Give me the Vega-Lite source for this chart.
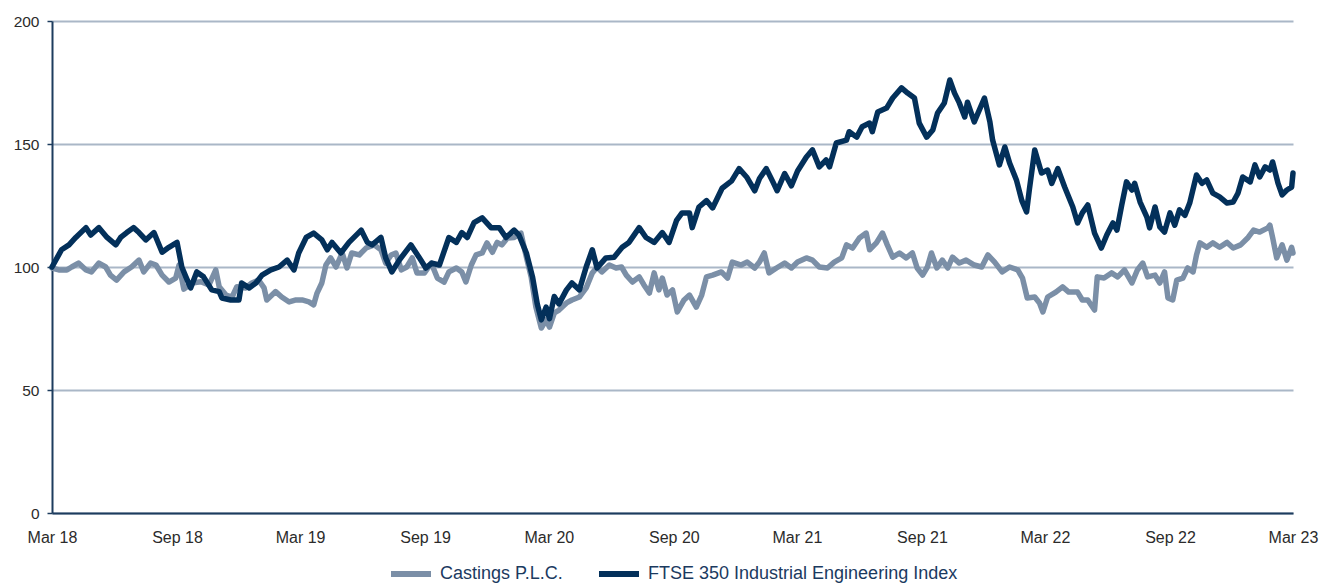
{
  "$schema": "https://vega.github.io/schema/vega-lite/v6.json",
  "width": 1241,
  "height": 492,
  "autosize": "none",
  "padding": {"left": 52, "top": 21, "right": 29, "bottom": 72},
  "background": "white",
  "config": {
    "view": {"stroke": null},
    "font": "Liberation Sans"
  },
  "data": {
    "values": [
      {"date": "2018-03-01", "series": "Castings P.L.C.", "value": 99.6},
      {"date": "2018-03-11", "series": "Castings P.L.C.", "value": 98.8},
      {"date": "2018-03-23", "series": "Castings P.L.C.", "value": 98.8},
      {"date": "2018-03-30", "series": "Castings P.L.C.", "value": 100},
      {"date": "2018-04-09", "series": "Castings P.L.C.", "value": 101.6},
      {"date": "2018-04-20", "series": "Castings P.L.C.", "value": 98.8},
      {"date": "2018-04-28", "series": "Castings P.L.C.", "value": 98},
      {"date": "2018-05-09", "series": "Castings P.L.C.", "value": 101.6},
      {"date": "2018-05-19", "series": "Castings P.L.C.", "value": 100},
      {"date": "2018-05-26", "series": "Castings P.L.C.", "value": 96.7},
      {"date": "2018-06-04", "series": "Castings P.L.C.", "value": 94.7},
      {"date": "2018-06-15", "series": "Castings P.L.C.", "value": 98},
      {"date": "2018-06-26", "series": "Castings P.L.C.", "value": 100},
      {"date": "2018-07-07", "series": "Castings P.L.C.", "value": 102.8},
      {"date": "2018-07-14", "series": "Castings P.L.C.", "value": 98},
      {"date": "2018-07-24", "series": "Castings P.L.C.", "value": 101.6},
      {"date": "2018-08-01", "series": "Castings P.L.C.", "value": 100.8},
      {"date": "2018-08-10", "series": "Castings P.L.C.", "value": 96.7},
      {"date": "2018-08-20", "series": "Castings P.L.C.", "value": 93.9},
      {"date": "2018-08-30", "series": "Castings P.L.C.", "value": 95.5},
      {"date": "2018-09-04", "series": "Castings P.L.C.", "value": 100.8},
      {"date": "2018-09-11", "series": "Castings P.L.C.", "value": 91},
      {"date": "2018-09-23", "series": "Castings P.L.C.", "value": 93.5},
      {"date": "2018-10-06", "series": "Castings P.L.C.", "value": 94},
      {"date": "2018-10-18", "series": "Castings P.L.C.", "value": 92.7},
      {"date": "2018-10-28", "series": "Castings P.L.C.", "value": 98.8},
      {"date": "2018-11-02", "series": "Castings P.L.C.", "value": 92},
      {"date": "2018-11-12", "series": "Castings P.L.C.", "value": 88.6},
      {"date": "2018-11-21", "series": "Castings P.L.C.", "value": 87.8},
      {"date": "2018-11-28", "series": "Castings P.L.C.", "value": 92},
      {"date": "2018-12-11", "series": "Castings P.L.C.", "value": 91.5},
      {"date": "2018-12-20", "series": "Castings P.L.C.", "value": 93.5},
      {"date": "2018-12-30", "series": "Castings P.L.C.", "value": 94.7},
      {"date": "2019-01-07", "series": "Castings P.L.C.", "value": 91.5},
      {"date": "2019-01-11", "series": "Castings P.L.C.", "value": 86.6},
      {"date": "2019-01-24", "series": "Castings P.L.C.", "value": 90},
      {"date": "2019-02-02", "series": "Castings P.L.C.", "value": 87.8},
      {"date": "2019-02-13", "series": "Castings P.L.C.", "value": 85.8},
      {"date": "2019-02-23", "series": "Castings P.L.C.", "value": 86.6},
      {"date": "2019-03-04", "series": "Castings P.L.C.", "value": 86.6},
      {"date": "2019-03-14", "series": "Castings P.L.C.", "value": 85.8},
      {"date": "2019-03-21", "series": "Castings P.L.C.", "value": 84.6},
      {"date": "2019-03-26", "series": "Castings P.L.C.", "value": 89.4},
      {"date": "2019-04-02", "series": "Castings P.L.C.", "value": 93.5},
      {"date": "2019-04-08", "series": "Castings P.L.C.", "value": 100.8},
      {"date": "2019-04-15", "series": "Castings P.L.C.", "value": 103.7},
      {"date": "2019-04-23", "series": "Castings P.L.C.", "value": 100},
      {"date": "2019-05-02", "series": "Castings P.L.C.", "value": 105.7},
      {"date": "2019-05-09", "series": "Castings P.L.C.", "value": 99.6},
      {"date": "2019-05-16", "series": "Castings P.L.C.", "value": 105.7},
      {"date": "2019-05-27", "series": "Castings P.L.C.", "value": 104.9},
      {"date": "2019-06-06", "series": "Castings P.L.C.", "value": 107.7},
      {"date": "2019-06-18", "series": "Castings P.L.C.", "value": 109},
      {"date": "2019-06-28", "series": "Castings P.L.C.", "value": 107},
      {"date": "2019-07-05", "series": "Castings P.L.C.", "value": 101.6},
      {"date": "2019-07-13", "series": "Castings P.L.C.", "value": 104.9},
      {"date": "2019-07-20", "series": "Castings P.L.C.", "value": 105.7},
      {"date": "2019-07-28", "series": "Castings P.L.C.", "value": 98.8},
      {"date": "2019-08-05", "series": "Castings P.L.C.", "value": 100},
      {"date": "2019-08-13", "series": "Castings P.L.C.", "value": 103.7},
      {"date": "2019-08-20", "series": "Castings P.L.C.", "value": 97.6},
      {"date": "2019-08-31", "series": "Castings P.L.C.", "value": 97.6},
      {"date": "2019-09-10", "series": "Castings P.L.C.", "value": 101.6},
      {"date": "2019-09-19", "series": "Castings P.L.C.", "value": 95.5},
      {"date": "2019-09-29", "series": "Castings P.L.C.", "value": 93.9},
      {"date": "2019-10-06", "series": "Castings P.L.C.", "value": 98},
      {"date": "2019-10-17", "series": "Castings P.L.C.", "value": 99.6},
      {"date": "2019-10-25", "series": "Castings P.L.C.", "value": 98},
      {"date": "2019-10-31", "series": "Castings P.L.C.", "value": 93.9},
      {"date": "2019-11-08", "series": "Castings P.L.C.", "value": 100.8},
      {"date": "2019-11-15", "series": "Castings P.L.C.", "value": 104.9},
      {"date": "2019-11-24", "series": "Castings P.L.C.", "value": 105.7},
      {"date": "2019-12-01", "series": "Castings P.L.C.", "value": 109.8},
      {"date": "2019-12-09", "series": "Castings P.L.C.", "value": 106},
      {"date": "2019-12-16", "series": "Castings P.L.C.", "value": 110},
      {"date": "2019-12-23", "series": "Castings P.L.C.", "value": 109},
      {"date": "2019-12-31", "series": "Castings P.L.C.", "value": 111.8},
      {"date": "2020-01-10", "series": "Castings P.L.C.", "value": 112},
      {"date": "2020-01-20", "series": "Castings P.L.C.", "value": 113.8},
      {"date": "2020-01-28", "series": "Castings P.L.C.", "value": 104},
      {"date": "2020-02-04", "series": "Castings P.L.C.", "value": 96},
      {"date": "2020-02-11", "series": "Castings P.L.C.", "value": 83.7},
      {"date": "2020-02-19", "series": "Castings P.L.C.", "value": 75.2},
      {"date": "2020-02-26", "series": "Castings P.L.C.", "value": 78.5},
      {"date": "2020-03-02", "series": "Castings P.L.C.", "value": 75.6},
      {"date": "2020-03-09", "series": "Castings P.L.C.", "value": 81.3},
      {"date": "2020-03-16", "series": "Castings P.L.C.", "value": 82.5},
      {"date": "2020-03-27", "series": "Castings P.L.C.", "value": 85.4},
      {"date": "2020-04-04", "series": "Castings P.L.C.", "value": 86.6},
      {"date": "2020-04-15", "series": "Castings P.L.C.", "value": 87.8},
      {"date": "2020-04-25", "series": "Castings P.L.C.", "value": 91.5},
      {"date": "2020-05-04", "series": "Castings P.L.C.", "value": 97.6},
      {"date": "2020-05-11", "series": "Castings P.L.C.", "value": 100},
      {"date": "2020-05-18", "series": "Castings P.L.C.", "value": 98},
      {"date": "2020-05-29", "series": "Castings P.L.C.", "value": 100.8},
      {"date": "2020-06-08", "series": "Castings P.L.C.", "value": 99.6},
      {"date": "2020-06-16", "series": "Castings P.L.C.", "value": 100},
      {"date": "2020-06-23", "series": "Castings P.L.C.", "value": 96.7},
      {"date": "2020-07-02", "series": "Castings P.L.C.", "value": 93.9},
      {"date": "2020-07-12", "series": "Castings P.L.C.", "value": 96},
      {"date": "2020-07-19", "series": "Castings P.L.C.", "value": 92.7},
      {"date": "2020-07-27", "series": "Castings P.L.C.", "value": 89.4},
      {"date": "2020-08-03", "series": "Castings P.L.C.", "value": 97.6},
      {"date": "2020-08-10", "series": "Castings P.L.C.", "value": 90.7},
      {"date": "2020-08-15", "series": "Castings P.L.C.", "value": 95.5},
      {"date": "2020-08-22", "series": "Castings P.L.C.", "value": 88.6},
      {"date": "2020-08-30", "series": "Castings P.L.C.", "value": 90.7},
      {"date": "2020-09-06", "series": "Castings P.L.C.", "value": 81.7},
      {"date": "2020-09-16", "series": "Castings P.L.C.", "value": 86.6},
      {"date": "2020-09-24", "series": "Castings P.L.C.", "value": 88.6},
      {"date": "2020-10-04", "series": "Castings P.L.C.", "value": 83.7},
      {"date": "2020-10-12", "series": "Castings P.L.C.", "value": 88.6},
      {"date": "2020-10-19", "series": "Castings P.L.C.", "value": 96},
      {"date": "2020-10-28", "series": "Castings P.L.C.", "value": 96.7},
      {"date": "2020-11-10", "series": "Castings P.L.C.", "value": 98},
      {"date": "2020-11-19", "series": "Castings P.L.C.", "value": 95.5},
      {"date": "2020-11-26", "series": "Castings P.L.C.", "value": 102},
      {"date": "2020-12-09", "series": "Castings P.L.C.", "value": 100.8},
      {"date": "2020-12-18", "series": "Castings P.L.C.", "value": 102},
      {"date": "2020-12-29", "series": "Castings P.L.C.", "value": 99.6},
      {"date": "2021-01-05", "series": "Castings P.L.C.", "value": 102},
      {"date": "2021-01-12", "series": "Castings P.L.C.", "value": 105.7},
      {"date": "2021-01-19", "series": "Castings P.L.C.", "value": 97.6},
      {"date": "2021-01-30", "series": "Castings P.L.C.", "value": 99.6},
      {"date": "2021-02-11", "series": "Castings P.L.C.", "value": 101.6},
      {"date": "2021-02-21", "series": "Castings P.L.C.", "value": 99.6},
      {"date": "2021-03-02", "series": "Castings P.L.C.", "value": 102},
      {"date": "2021-03-15", "series": "Castings P.L.C.", "value": 103.7},
      {"date": "2021-03-24", "series": "Castings P.L.C.", "value": 102.8},
      {"date": "2021-04-03", "series": "Castings P.L.C.", "value": 100},
      {"date": "2021-04-15", "series": "Castings P.L.C.", "value": 99.6},
      {"date": "2021-04-25", "series": "Castings P.L.C.", "value": 102},
      {"date": "2021-05-06", "series": "Castings P.L.C.", "value": 103.7},
      {"date": "2021-05-13", "series": "Castings P.L.C.", "value": 109},
      {"date": "2021-05-22", "series": "Castings P.L.C.", "value": 107.7},
      {"date": "2021-06-01", "series": "Castings P.L.C.", "value": 111.8},
      {"date": "2021-06-11", "series": "Castings P.L.C.", "value": 113.8},
      {"date": "2021-06-16", "series": "Castings P.L.C.", "value": 107},
      {"date": "2021-06-26", "series": "Castings P.L.C.", "value": 109.8},
      {"date": "2021-07-05", "series": "Castings P.L.C.", "value": 113.8},
      {"date": "2021-07-12", "series": "Castings P.L.C.", "value": 109},
      {"date": "2021-07-20", "series": "Castings P.L.C.", "value": 104},
      {"date": "2021-07-30", "series": "Castings P.L.C.", "value": 105.7},
      {"date": "2021-08-09", "series": "Castings P.L.C.", "value": 103.7},
      {"date": "2021-08-18", "series": "Castings P.L.C.", "value": 105.7},
      {"date": "2021-08-25", "series": "Castings P.L.C.", "value": 99.6},
      {"date": "2021-09-02", "series": "Castings P.L.C.", "value": 96.7},
      {"date": "2021-09-09", "series": "Castings P.L.C.", "value": 100},
      {"date": "2021-09-15", "series": "Castings P.L.C.", "value": 105.7},
      {"date": "2021-09-23", "series": "Castings P.L.C.", "value": 99.6},
      {"date": "2021-10-01", "series": "Castings P.L.C.", "value": 102.8},
      {"date": "2021-10-09", "series": "Castings P.L.C.", "value": 99.6},
      {"date": "2021-10-16", "series": "Castings P.L.C.", "value": 104},
      {"date": "2021-10-26", "series": "Castings P.L.C.", "value": 101.6},
      {"date": "2021-11-05", "series": "Castings P.L.C.", "value": 102.8},
      {"date": "2021-11-17", "series": "Castings P.L.C.", "value": 100.8},
      {"date": "2021-11-28", "series": "Castings P.L.C.", "value": 100},
      {"date": "2021-12-07", "series": "Castings P.L.C.", "value": 104.9},
      {"date": "2021-12-17", "series": "Castings P.L.C.", "value": 102},
      {"date": "2021-12-28", "series": "Castings P.L.C.", "value": 98},
      {"date": "2022-01-08", "series": "Castings P.L.C.", "value": 100},
      {"date": "2022-01-20", "series": "Castings P.L.C.", "value": 98.8},
      {"date": "2022-01-27", "series": "Castings P.L.C.", "value": 95.5},
      {"date": "2022-02-03", "series": "Castings P.L.C.", "value": 87.4},
      {"date": "2022-02-14", "series": "Castings P.L.C.", "value": 87.8},
      {"date": "2022-02-21", "series": "Castings P.L.C.", "value": 85.4},
      {"date": "2022-02-26", "series": "Castings P.L.C.", "value": 81.7},
      {"date": "2022-03-05", "series": "Castings P.L.C.", "value": 87.8},
      {"date": "2022-03-17", "series": "Castings P.L.C.", "value": 89.8},
      {"date": "2022-03-27", "series": "Castings P.L.C.", "value": 91.9},
      {"date": "2022-04-05", "series": "Castings P.L.C.", "value": 89.8},
      {"date": "2022-04-18", "series": "Castings P.L.C.", "value": 89.8},
      {"date": "2022-04-25", "series": "Castings P.L.C.", "value": 86.6},
      {"date": "2022-05-03", "series": "Castings P.L.C.", "value": 86.6},
      {"date": "2022-05-13", "series": "Castings P.L.C.", "value": 82.5},
      {"date": "2022-05-17", "series": "Castings P.L.C.", "value": 96},
      {"date": "2022-05-27", "series": "Castings P.L.C.", "value": 95.5},
      {"date": "2022-06-07", "series": "Castings P.L.C.", "value": 97.6},
      {"date": "2022-06-16", "series": "Castings P.L.C.", "value": 96},
      {"date": "2022-06-26", "series": "Castings P.L.C.", "value": 98.8},
      {"date": "2022-07-07", "series": "Castings P.L.C.", "value": 93.5},
      {"date": "2022-07-15", "series": "Castings P.L.C.", "value": 98.8},
      {"date": "2022-07-23", "series": "Castings P.L.C.", "value": 101.6},
      {"date": "2022-07-30", "series": "Castings P.L.C.", "value": 96},
      {"date": "2022-08-10", "series": "Castings P.L.C.", "value": 96.7},
      {"date": "2022-08-17", "series": "Castings P.L.C.", "value": 93.5},
      {"date": "2022-08-24", "series": "Castings P.L.C.", "value": 98},
      {"date": "2022-08-29", "series": "Castings P.L.C.", "value": 87.4},
      {"date": "2022-09-05", "series": "Castings P.L.C.", "value": 86.6},
      {"date": "2022-09-11", "series": "Castings P.L.C.", "value": 94.7},
      {"date": "2022-09-20", "series": "Castings P.L.C.", "value": 95.5},
      {"date": "2022-09-27", "series": "Castings P.L.C.", "value": 99.6},
      {"date": "2022-10-05", "series": "Castings P.L.C.", "value": 98},
      {"date": "2022-10-10", "series": "Castings P.L.C.", "value": 104.9},
      {"date": "2022-10-15", "series": "Castings P.L.C.", "value": 109.8},
      {"date": "2022-10-25", "series": "Castings P.L.C.", "value": 108},
      {"date": "2022-11-03", "series": "Castings P.L.C.", "value": 109.8},
      {"date": "2022-11-13", "series": "Castings P.L.C.", "value": 108},
      {"date": "2022-11-24", "series": "Castings P.L.C.", "value": 110},
      {"date": "2022-12-03", "series": "Castings P.L.C.", "value": 107.7},
      {"date": "2022-12-14", "series": "Castings P.L.C.", "value": 109},
      {"date": "2022-12-25", "series": "Castings P.L.C.", "value": 112},
      {"date": "2023-01-02", "series": "Castings P.L.C.", "value": 115},
      {"date": "2023-01-11", "series": "Castings P.L.C.", "value": 114.2},
      {"date": "2023-01-23", "series": "Castings P.L.C.", "value": 115.9},
      {"date": "2023-01-26", "series": "Castings P.L.C.", "value": 117},
      {"date": "2023-01-30", "series": "Castings P.L.C.", "value": 112},
      {"date": "2023-02-05", "series": "Castings P.L.C.", "value": 103.7},
      {"date": "2023-02-13", "series": "Castings P.L.C.", "value": 109},
      {"date": "2023-02-20", "series": "Castings P.L.C.", "value": 102.8},
      {"date": "2023-02-27", "series": "Castings P.L.C.", "value": 108},
      {"date": "2023-03-01", "series": "Castings P.L.C.", "value": 105.7},

      {"date": "2018-03-01", "series": "FTSE 350 Industrial Engineering Index", "value": 100},
      {"date": "2018-03-15", "series": "FTSE 350 Industrial Engineering Index", "value": 107},
      {"date": "2018-03-26", "series": "FTSE 350 Industrial Engineering Index", "value": 109},
      {"date": "2018-04-05", "series": "FTSE 350 Industrial Engineering Index", "value": 112},
      {"date": "2018-04-20", "series": "FTSE 350 Industrial Engineering Index", "value": 116},
      {"date": "2018-04-27", "series": "FTSE 350 Industrial Engineering Index", "value": 113},
      {"date": "2018-05-09", "series": "FTSE 350 Industrial Engineering Index", "value": 116},
      {"date": "2018-05-21", "series": "FTSE 350 Industrial Engineering Index", "value": 112},
      {"date": "2018-06-03", "series": "FTSE 350 Industrial Engineering Index", "value": 109},
      {"date": "2018-06-10", "series": "FTSE 350 Industrial Engineering Index", "value": 112},
      {"date": "2018-06-19", "series": "FTSE 350 Industrial Engineering Index", "value": 114},
      {"date": "2018-06-29", "series": "FTSE 350 Industrial Engineering Index", "value": 116},
      {"date": "2018-07-07", "series": "FTSE 350 Industrial Engineering Index", "value": 114},
      {"date": "2018-07-17", "series": "FTSE 350 Industrial Engineering Index", "value": 111},
      {"date": "2018-07-29", "series": "FTSE 350 Industrial Engineering Index", "value": 114},
      {"date": "2018-08-10", "series": "FTSE 350 Industrial Engineering Index", "value": 106},
      {"date": "2018-08-20", "series": "FTSE 350 Industrial Engineering Index", "value": 108},
      {"date": "2018-09-01", "series": "FTSE 350 Industrial Engineering Index", "value": 110},
      {"date": "2018-09-08", "series": "FTSE 350 Industrial Engineering Index", "value": 100},
      {"date": "2018-09-14", "series": "FTSE 350 Industrial Engineering Index", "value": 96},
      {"date": "2018-09-21", "series": "FTSE 350 Industrial Engineering Index", "value": 91.5},
      {"date": "2018-09-30", "series": "FTSE 350 Industrial Engineering Index", "value": 98},
      {"date": "2018-10-10", "series": "FTSE 350 Industrial Engineering Index", "value": 96},
      {"date": "2018-10-22", "series": "FTSE 350 Industrial Engineering Index", "value": 90.7},
      {"date": "2018-11-02", "series": "FTSE 350 Industrial Engineering Index", "value": 90},
      {"date": "2018-11-06", "series": "FTSE 350 Industrial Engineering Index", "value": 87.4},
      {"date": "2018-11-19", "series": "FTSE 350 Industrial Engineering Index", "value": 86.6},
      {"date": "2018-12-01", "series": "FTSE 350 Industrial Engineering Index", "value": 86.6},
      {"date": "2018-12-05", "series": "FTSE 350 Industrial Engineering Index", "value": 93.5},
      {"date": "2018-12-16", "series": "FTSE 350 Industrial Engineering Index", "value": 91.5},
      {"date": "2018-12-26", "series": "FTSE 350 Industrial Engineering Index", "value": 93.5},
      {"date": "2019-01-04", "series": "FTSE 350 Industrial Engineering Index", "value": 96.7},
      {"date": "2019-01-17", "series": "FTSE 350 Industrial Engineering Index", "value": 98.8},
      {"date": "2019-01-29", "series": "FTSE 350 Industrial Engineering Index", "value": 100},
      {"date": "2019-02-10", "series": "FTSE 350 Industrial Engineering Index", "value": 102.8},
      {"date": "2019-02-20", "series": "FTSE 350 Industrial Engineering Index", "value": 98.8},
      {"date": "2019-02-27", "series": "FTSE 350 Industrial Engineering Index", "value": 105.7},
      {"date": "2019-03-10", "series": "FTSE 350 Industrial Engineering Index", "value": 112},
      {"date": "2019-03-21", "series": "FTSE 350 Industrial Engineering Index", "value": 113.8},
      {"date": "2019-04-02", "series": "FTSE 350 Industrial Engineering Index", "value": 111},
      {"date": "2019-04-10", "series": "FTSE 350 Industrial Engineering Index", "value": 107},
      {"date": "2019-04-17", "series": "FTSE 350 Industrial Engineering Index", "value": 110},
      {"date": "2019-04-30", "series": "FTSE 350 Industrial Engineering Index", "value": 105.7},
      {"date": "2019-05-12", "series": "FTSE 350 Industrial Engineering Index", "value": 110},
      {"date": "2019-05-30", "series": "FTSE 350 Industrial Engineering Index", "value": 115},
      {"date": "2019-06-08", "series": "FTSE 350 Industrial Engineering Index", "value": 110},
      {"date": "2019-06-15", "series": "FTSE 350 Industrial Engineering Index", "value": 109},
      {"date": "2019-06-28", "series": "FTSE 350 Industrial Engineering Index", "value": 112},
      {"date": "2019-07-05", "series": "FTSE 350 Industrial Engineering Index", "value": 103.7},
      {"date": "2019-07-14", "series": "FTSE 350 Industrial Engineering Index", "value": 98},
      {"date": "2019-07-25", "series": "FTSE 350 Industrial Engineering Index", "value": 102.8},
      {"date": "2019-08-11", "series": "FTSE 350 Industrial Engineering Index", "value": 109},
      {"date": "2019-08-23", "series": "FTSE 350 Industrial Engineering Index", "value": 104},
      {"date": "2019-09-02", "series": "FTSE 350 Industrial Engineering Index", "value": 99.6},
      {"date": "2019-09-11", "series": "FTSE 350 Industrial Engineering Index", "value": 101.6},
      {"date": "2019-09-22", "series": "FTSE 350 Industrial Engineering Index", "value": 100.8},
      {"date": "2019-10-06", "series": "FTSE 350 Industrial Engineering Index", "value": 112},
      {"date": "2019-10-17", "series": "FTSE 350 Industrial Engineering Index", "value": 110},
      {"date": "2019-10-25", "series": "FTSE 350 Industrial Engineering Index", "value": 114},
      {"date": "2019-11-02", "series": "FTSE 350 Industrial Engineering Index", "value": 112},
      {"date": "2019-11-12", "series": "FTSE 350 Industrial Engineering Index", "value": 118},
      {"date": "2019-11-24", "series": "FTSE 350 Industrial Engineering Index", "value": 120},
      {"date": "2019-12-07", "series": "FTSE 350 Industrial Engineering Index", "value": 116},
      {"date": "2019-12-19", "series": "FTSE 350 Industrial Engineering Index", "value": 116},
      {"date": "2019-12-29", "series": "FTSE 350 Industrial Engineering Index", "value": 112},
      {"date": "2020-01-10", "series": "FTSE 350 Industrial Engineering Index", "value": 115},
      {"date": "2020-01-17", "series": "FTSE 350 Industrial Engineering Index", "value": 113},
      {"date": "2020-01-28", "series": "FTSE 350 Industrial Engineering Index", "value": 105.7},
      {"date": "2020-02-06", "series": "FTSE 350 Industrial Engineering Index", "value": 96},
      {"date": "2020-02-13", "series": "FTSE 350 Industrial Engineering Index", "value": 85},
      {"date": "2020-02-19", "series": "FTSE 350 Industrial Engineering Index", "value": 78.5},
      {"date": "2020-02-26", "series": "FTSE 350 Industrial Engineering Index", "value": 83.7},
      {"date": "2020-03-02", "series": "FTSE 350 Industrial Engineering Index", "value": 79},
      {"date": "2020-03-09", "series": "FTSE 350 Industrial Engineering Index", "value": 88},
      {"date": "2020-03-16", "series": "FTSE 350 Industrial Engineering Index", "value": 85},
      {"date": "2020-03-27", "series": "FTSE 350 Industrial Engineering Index", "value": 90.7},
      {"date": "2020-04-04", "series": "FTSE 350 Industrial Engineering Index", "value": 93.5},
      {"date": "2020-04-15", "series": "FTSE 350 Industrial Engineering Index", "value": 90.7},
      {"date": "2020-04-25", "series": "FTSE 350 Industrial Engineering Index", "value": 100},
      {"date": "2020-05-04", "series": "FTSE 350 Industrial Engineering Index", "value": 107},
      {"date": "2020-05-11", "series": "FTSE 350 Industrial Engineering Index", "value": 99.6},
      {"date": "2020-05-24", "series": "FTSE 350 Industrial Engineering Index", "value": 103.7},
      {"date": "2020-06-05", "series": "FTSE 350 Industrial Engineering Index", "value": 104},
      {"date": "2020-06-17", "series": "FTSE 350 Industrial Engineering Index", "value": 108},
      {"date": "2020-06-27", "series": "FTSE 350 Industrial Engineering Index", "value": 110},
      {"date": "2020-07-12", "series": "FTSE 350 Industrial Engineering Index", "value": 116},
      {"date": "2020-07-22", "series": "FTSE 350 Industrial Engineering Index", "value": 112},
      {"date": "2020-08-03", "series": "FTSE 350 Industrial Engineering Index", "value": 110},
      {"date": "2020-08-15", "series": "FTSE 350 Industrial Engineering Index", "value": 114},
      {"date": "2020-08-25", "series": "FTSE 350 Industrial Engineering Index", "value": 110},
      {"date": "2020-09-05", "series": "FTSE 350 Industrial Engineering Index", "value": 119},
      {"date": "2020-09-13", "series": "FTSE 350 Industrial Engineering Index", "value": 122},
      {"date": "2020-09-24", "series": "FTSE 350 Industrial Engineering Index", "value": 122},
      {"date": "2020-09-28", "series": "FTSE 350 Industrial Engineering Index", "value": 116},
      {"date": "2020-10-08", "series": "FTSE 350 Industrial Engineering Index", "value": 124.4},
      {"date": "2020-10-19", "series": "FTSE 350 Industrial Engineering Index", "value": 127},
      {"date": "2020-10-28", "series": "FTSE 350 Industrial Engineering Index", "value": 124},
      {"date": "2020-11-11", "series": "FTSE 350 Industrial Engineering Index", "value": 132},
      {"date": "2020-11-25", "series": "FTSE 350 Industrial Engineering Index", "value": 135},
      {"date": "2020-12-06", "series": "FTSE 350 Industrial Engineering Index", "value": 140},
      {"date": "2020-12-17", "series": "FTSE 350 Industrial Engineering Index", "value": 136.6},
      {"date": "2020-12-29", "series": "FTSE 350 Industrial Engineering Index", "value": 131},
      {"date": "2021-01-05", "series": "FTSE 350 Industrial Engineering Index", "value": 136},
      {"date": "2021-01-15", "series": "FTSE 350 Industrial Engineering Index", "value": 140},
      {"date": "2021-01-24", "series": "FTSE 350 Industrial Engineering Index", "value": 135},
      {"date": "2021-01-31", "series": "FTSE 350 Industrial Engineering Index", "value": 131},
      {"date": "2021-02-11", "series": "FTSE 350 Industrial Engineering Index", "value": 138},
      {"date": "2021-02-21", "series": "FTSE 350 Industrial Engineering Index", "value": 133},
      {"date": "2021-03-02", "series": "FTSE 350 Industrial Engineering Index", "value": 139},
      {"date": "2021-03-15", "series": "FTSE 350 Industrial Engineering Index", "value": 144.7},
      {"date": "2021-03-24", "series": "FTSE 350 Industrial Engineering Index", "value": 147.6},
      {"date": "2021-04-03", "series": "FTSE 350 Industrial Engineering Index", "value": 140.7},
      {"date": "2021-04-13", "series": "FTSE 350 Industrial Engineering Index", "value": 143.5},
      {"date": "2021-04-18", "series": "FTSE 350 Industrial Engineering Index", "value": 140.7},
      {"date": "2021-04-28", "series": "FTSE 350 Industrial Engineering Index", "value": 150.4},
      {"date": "2021-05-13", "series": "FTSE 350 Industrial Engineering Index", "value": 151.6},
      {"date": "2021-05-17", "series": "FTSE 350 Industrial Engineering Index", "value": 155},
      {"date": "2021-05-28", "series": "FTSE 350 Industrial Engineering Index", "value": 152.8},
      {"date": "2021-06-05", "series": "FTSE 350 Industrial Engineering Index", "value": 157},
      {"date": "2021-06-16", "series": "FTSE 350 Industrial Engineering Index", "value": 158.5},
      {"date": "2021-06-20", "series": "FTSE 350 Industrial Engineering Index", "value": 155},
      {"date": "2021-06-28", "series": "FTSE 350 Industrial Engineering Index", "value": 163},
      {"date": "2021-07-11", "series": "FTSE 350 Industrial Engineering Index", "value": 164.6},
      {"date": "2021-07-20", "series": "FTSE 350 Industrial Engineering Index", "value": 168.7},
      {"date": "2021-08-02", "series": "FTSE 350 Industrial Engineering Index", "value": 172.8},
      {"date": "2021-08-11", "series": "FTSE 350 Industrial Engineering Index", "value": 170.7},
      {"date": "2021-08-21", "series": "FTSE 350 Industrial Engineering Index", "value": 168.7},
      {"date": "2021-08-28", "series": "FTSE 350 Industrial Engineering Index", "value": 158.5},
      {"date": "2021-09-08", "series": "FTSE 350 Industrial Engineering Index", "value": 152.8},
      {"date": "2021-09-17", "series": "FTSE 350 Industrial Engineering Index", "value": 155.7},
      {"date": "2021-09-24", "series": "FTSE 350 Industrial Engineering Index", "value": 162.6},
      {"date": "2021-10-04", "series": "FTSE 350 Industrial Engineering Index", "value": 166.7},
      {"date": "2021-10-12", "series": "FTSE 350 Industrial Engineering Index", "value": 176},
      {"date": "2021-10-19", "series": "FTSE 350 Industrial Engineering Index", "value": 170.7},
      {"date": "2021-10-26", "series": "FTSE 350 Industrial Engineering Index", "value": 166.7},
      {"date": "2021-11-03", "series": "FTSE 350 Industrial Engineering Index", "value": 161},
      {"date": "2021-11-07", "series": "FTSE 350 Industrial Engineering Index", "value": 167},
      {"date": "2021-11-17", "series": "FTSE 350 Industrial Engineering Index", "value": 159},
      {"date": "2021-12-02", "series": "FTSE 350 Industrial Engineering Index", "value": 168.7},
      {"date": "2021-12-10", "series": "FTSE 350 Industrial Engineering Index", "value": 159},
      {"date": "2021-12-14", "series": "FTSE 350 Industrial Engineering Index", "value": 151.6},
      {"date": "2021-12-24", "series": "FTSE 350 Industrial Engineering Index", "value": 141.5},
      {"date": "2022-01-01", "series": "FTSE 350 Industrial Engineering Index", "value": 148.8},
      {"date": "2022-01-08", "series": "FTSE 350 Industrial Engineering Index", "value": 142.3},
      {"date": "2022-01-18", "series": "FTSE 350 Industrial Engineering Index", "value": 135.4},
      {"date": "2022-01-26", "series": "FTSE 350 Industrial Engineering Index", "value": 127},
      {"date": "2022-02-02", "series": "FTSE 350 Industrial Engineering Index", "value": 122.4},
      {"date": "2022-02-06", "series": "FTSE 350 Industrial Engineering Index", "value": 131.3},
      {"date": "2022-02-14", "series": "FTSE 350 Industrial Engineering Index", "value": 147.6},
      {"date": "2022-02-24", "series": "FTSE 350 Industrial Engineering Index", "value": 138.2},
      {"date": "2022-03-05", "series": "FTSE 350 Industrial Engineering Index", "value": 139.4},
      {"date": "2022-03-11", "series": "FTSE 350 Industrial Engineering Index", "value": 134},
      {"date": "2022-03-20", "series": "FTSE 350 Industrial Engineering Index", "value": 140},
      {"date": "2022-03-30", "series": "FTSE 350 Industrial Engineering Index", "value": 132.5},
      {"date": "2022-04-11", "series": "FTSE 350 Industrial Engineering Index", "value": 124.4},
      {"date": "2022-04-18", "series": "FTSE 350 Industrial Engineering Index", "value": 117.9},
      {"date": "2022-04-25", "series": "FTSE 350 Industrial Engineering Index", "value": 122},
      {"date": "2022-05-03", "series": "FTSE 350 Industrial Engineering Index", "value": 125.2},
      {"date": "2022-05-13", "series": "FTSE 350 Industrial Engineering Index", "value": 113.8},
      {"date": "2022-05-23", "series": "FTSE 350 Industrial Engineering Index", "value": 107.7},
      {"date": "2022-05-31", "series": "FTSE 350 Industrial Engineering Index", "value": 113},
      {"date": "2022-06-09", "series": "FTSE 350 Industrial Engineering Index", "value": 117.9},
      {"date": "2022-06-15", "series": "FTSE 350 Industrial Engineering Index", "value": 115},
      {"date": "2022-06-22", "series": "FTSE 350 Industrial Engineering Index", "value": 125.2},
      {"date": "2022-06-29", "series": "FTSE 350 Industrial Engineering Index", "value": 134.6},
      {"date": "2022-07-07", "series": "FTSE 350 Industrial Engineering Index", "value": 131.3},
      {"date": "2022-07-11", "series": "FTSE 350 Industrial Engineering Index", "value": 134},
      {"date": "2022-07-19", "series": "FTSE 350 Industrial Engineering Index", "value": 126.4},
      {"date": "2022-07-29", "series": "FTSE 350 Industrial Engineering Index", "value": 120.3},
      {"date": "2022-08-02", "series": "FTSE 350 Industrial Engineering Index", "value": 115.9},
      {"date": "2022-08-10", "series": "FTSE 350 Industrial Engineering Index", "value": 124.4},
      {"date": "2022-08-17", "series": "FTSE 350 Industrial Engineering Index", "value": 116.3},
      {"date": "2022-08-24", "series": "FTSE 350 Industrial Engineering Index", "value": 114.2},
      {"date": "2022-09-01", "series": "FTSE 350 Industrial Engineering Index", "value": 122},
      {"date": "2022-09-08", "series": "FTSE 350 Industrial Engineering Index", "value": 117},
      {"date": "2022-09-15", "series": "FTSE 350 Industrial Engineering Index", "value": 123.2},
      {"date": "2022-09-23", "series": "FTSE 350 Industrial Engineering Index", "value": 121},
      {"date": "2022-09-30", "series": "FTSE 350 Industrial Engineering Index", "value": 126},
      {"date": "2022-10-10", "series": "FTSE 350 Industrial Engineering Index", "value": 137.4},
      {"date": "2022-10-18", "series": "FTSE 350 Industrial Engineering Index", "value": 134},
      {"date": "2022-10-25", "series": "FTSE 350 Industrial Engineering Index", "value": 135.4},
      {"date": "2022-11-03", "series": "FTSE 350 Industrial Engineering Index", "value": 130},
      {"date": "2022-11-13", "series": "FTSE 350 Industrial Engineering Index", "value": 128.5},
      {"date": "2022-11-24", "series": "FTSE 350 Industrial Engineering Index", "value": 126},
      {"date": "2022-12-03", "series": "FTSE 350 Industrial Engineering Index", "value": 126.4},
      {"date": "2022-12-10", "series": "FTSE 350 Industrial Engineering Index", "value": 130},
      {"date": "2022-12-17", "series": "FTSE 350 Industrial Engineering Index", "value": 136.6},
      {"date": "2022-12-28", "series": "FTSE 350 Industrial Engineering Index", "value": 134.6},
      {"date": "2023-01-04", "series": "FTSE 350 Industrial Engineering Index", "value": 141.5},
      {"date": "2023-01-11", "series": "FTSE 350 Industrial Engineering Index", "value": 136.6},
      {"date": "2023-01-19", "series": "FTSE 350 Industrial Engineering Index", "value": 140.7},
      {"date": "2023-01-26", "series": "FTSE 350 Industrial Engineering Index", "value": 139.4},
      {"date": "2023-01-30", "series": "FTSE 350 Industrial Engineering Index", "value": 142.7},
      {"date": "2023-02-07", "series": "FTSE 350 Industrial Engineering Index", "value": 134},
      {"date": "2023-02-13", "series": "FTSE 350 Industrial Engineering Index", "value": 129.3},
      {"date": "2023-02-20", "series": "FTSE 350 Industrial Engineering Index", "value": 131.3},
      {"date": "2023-02-27", "series": "FTSE 350 Industrial Engineering Index", "value": 132.5},
      {"date": "2023-03-01", "series": "FTSE 350 Industrial Engineering Index", "value": 138.2}
    ]
  },
  "mark": {"type": "line", "strokeWidth": 5.5, "strokeJoin": "round", "strokeCap": "round", "clip": false},
  "encoding": {
    "x": {
      "field": "date",
      "type": "temporal",
      "scale": {"type": "utc", "domain": [{"year": 2018, "month": 3, "date": 1, "utc": true}, {"year": 2023, "month": 3, "date": 1, "utc": true}]},
      "axis": {
        "title": null,
        "labelExpr": "utcFormat(datum.value, '%b %y')",
        "values": [
          {"year": 2018, "month": 3, "date": 1, "utc": true},
          {"year": 2018, "month": 9, "date": 1, "utc": true},
          {"year": 2019, "month": 3, "date": 1, "utc": true},
          {"year": 2019, "month": 9, "date": 1, "utc": true},
          {"year": 2020, "month": 3, "date": 1, "utc": true},
          {"year": 2020, "month": 9, "date": 1, "utc": true},
          {"year": 2021, "month": 3, "date": 1, "utc": true},
          {"year": 2021, "month": 9, "date": 1, "utc": true},
          {"year": 2022, "month": 3, "date": 1, "utc": true},
          {"year": 2022, "month": 9, "date": 1, "utc": true},
          {"year": 2023, "month": 3, "date": 1, "utc": true}
        ],
        "grid": false,
        "ticks": false,
        "domainColor": "#1d3c5e",
        "domainWidth": 2,
        "labelFont": "Liberation Sans",
        "labelFontSize": 16,
        "labelColor": "#2b2b2b",
        "labelPadding": 16,
        "labelFlush": false,
        "labelOverlap": false
      }
    },
    "y": {
      "field": "value",
      "type": "quantitative",
      "scale": {"domain": [0, 200], "nice": false, "zero": true},
      "axis": {
        "title": null,
        "values": [0, 50, 100, 150, 200],
        "grid": true,
        "gridColor": "#aab7c7",
        "gridWidth": 2,
        "domainColor": "#1d3c5e",
        "domainWidth": 2,
        "tickColor": "#1d3c5e",
        "tickWidth": 1.5,
        "tickSize": 5,
        "labelFont": "Liberation Sans",
        "labelFontSize": 15.5,
        "labelColor": "#2b2b2b",
        "labelPadding": 8
      }
    },
    "color": {
      "field": "series",
      "type": "nominal",
      "scale": {
        "domain": ["Castings P.L.C.", "FTSE 350 Industrial Engineering Index"],
        "range": ["#7b8fa7", "#03305a"]
      },
      "legend": {
        "title": null,
        "orient": "none",
        "direction": "horizontal",
        "legendX": 336,
        "legendY": 530,
        "symbolType": "stroke",
        "symbolStrokeWidth": 6,
        "symbolSize": 1600,
        "labelFont": "Liberation Sans",
        "labelFontSize": 18,
        "labelLimit": 500,
        "labelColor": "#1b3a5f",
        "labelOffset": 6,
        "columnPadding": 24
      }
    }
  }
}
